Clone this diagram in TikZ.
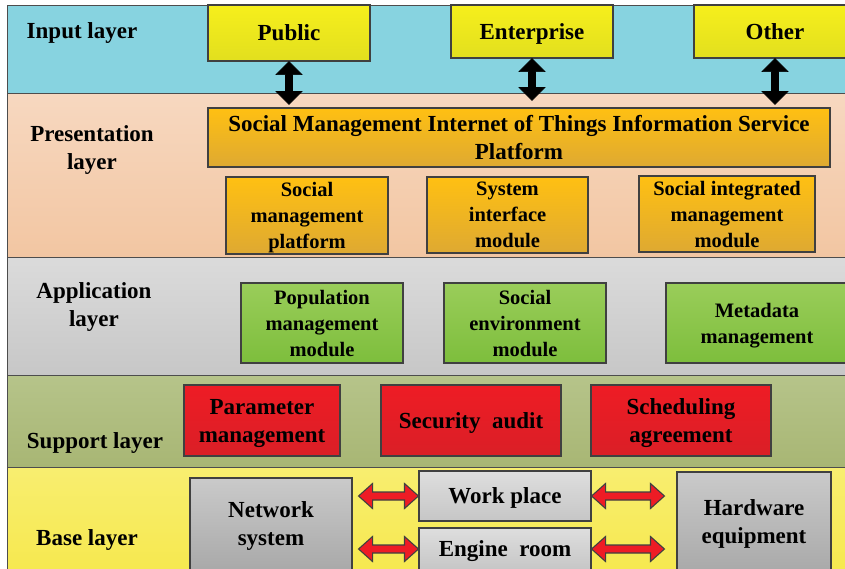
\documentclass[tikz,border=0pt]{standalone}
\usepackage{fontspec}
\setmainfont{Liberation Serif}
\usetikzlibrary{calc}
\definecolor{inband}{HTML}{87D3E0}
\definecolor{prestop}{HTML}{F7D8C0}
\definecolor{presbot}{HTML}{F2C6A2}
\definecolor{apptop}{HTML}{DBDBDB}
\definecolor{appbot}{HTML}{C7C7C7}
\definecolor{suptop}{HTML}{B6C48A}
\definecolor{supbot}{HTML}{A8B674}
\definecolor{basetop}{HTML}{F8EE70}
\definecolor{basebot}{HTML}{F6E84C}
\definecolor{yeltop}{HTML}{F6EF1C}
\definecolor{yelbot}{HTML}{E2DF1E}
\definecolor{ortop}{HTML}{FFC012}
\definecolor{orbot}{HTML}{DEA932}
\definecolor{grtop}{HTML}{9ACD5A}
\definecolor{grbot}{HTML}{7DBE3C}
\definecolor{rdtop}{HTML}{EE1C25}
\definecolor{rdbot}{HTML}{DA1F26}
\definecolor{gytop}{HTML}{CACACA}
\definecolor{gybot}{HTML}{A9A9A9}
\definecolor{lgtop}{HTML}{DEDEDE}
\definecolor{lgbot}{HTML}{C6C6C6}
\definecolor{boxline}{HTML}{404040}
\definecolor{bandline}{HTML}{4D4D4D}
\newcommand{\bigf}{\fontsize{23}{28}\selectfont\bfseries}
\newcommand{\smallf}{\fontsize{20.5}{26}\selectfont\bfseries}
\newcommand{\dArrowV}[3][]{%
  \path[#1] let \p1=(#2), \p2=(#3) in
   (\x1,\y1) -- (\x1+13pt,\y1-13pt) -- (\x1+3.5pt,\y1-13pt) -- (\x1+3.5pt,\y2+13pt)
   -- (\x1+13pt,\y2+13pt) -- (\x1,\y2) -- (\x1-13pt,\y2+13pt) -- (\x1-3.5pt,\y2+13pt)
   -- (\x1-3.5pt,\y1-13pt) -- (\x1-13pt,\y1-13pt) -- cycle;}
\newcommand{\dArrowH}[3][]{%
  \path[#1] let \p1=(#2), \p2=(#3) in
   (\x1,\y1) -- (\x1+14pt,\y1+12.5pt) -- (\x1+14pt,\y1+4pt) -- (\x2-14pt,\y1+4pt)
   -- (\x2-14pt,\y1+12.5pt) -- (\x2,\y1) -- (\x2-14pt,\y1-12.5pt) -- (\x2-14pt,\y1-4pt)
   -- (\x1+14pt,\y1-4pt) -- (\x1+14pt,\y1-12.5pt) -- cycle;}
\begin{document}
\begin{tikzpicture}[x=1pt,y=-1pt,
  band/.style={draw=bandline,line width=1pt},
  bx/.style={draw=boxline,line width=1.1pt,inner sep=0pt,align=center,text depth=0pt},
  yel/.style={bx,top color=yeltop,bottom color=yelbot,font=\bigf},
  ora/.style={bx,top color=ortop,bottom color=orbot,font=\bigf},
  orasm/.style={bx,top color=ortop,bottom color=orbot,font=\smallf},
  grn/.style={bx,top color=grtop,bottom color=grbot,font=\smallf},
  red/.style={bx,top color=rdtop,bottom color=rdbot,font=\bigf},
  gry/.style={bx,top color=gytop,bottom color=gybot,font=\bigf},
  lgry/.style={bx,top color=lgtop,bottom color=lgbot,font=\bigf},
  lbl/.style={align=center,font=\bigf,inner sep=0pt,text depth=0pt},
  blkarrow/.style={fill=black,draw=black,line width=0.6pt},
  redarrow/.style={fill=rdtop,draw=boxline,line width=1.1pt}]
\useasboundingbox (0,0) rectangle (845,568);
\clip (0,0) rectangle (845,568);
% bands
\path[band,fill=inband] (7,5) rectangle (852,93);
\path[band,top color=prestop,bottom color=presbot] (7,93) rectangle (852,257);
\path[band,top color=apptop,bottom color=appbot] (7,257) rectangle (852,375);
\path[band,top color=suptop,bottom color=supbot] (7,375) rectangle (852,467);
\path[band,top color=basetop,bottom color=basebot] (7,467) rectangle (852,580);
% layer labels
\node[lbl] (linput) at (82,31) {Input layer};
\node[lbl] (lpres) at (92,147.5) {Presentation\\layer};
\node[lbl] (lapp) at (94,305) {Application\\layer};
\node[lbl] (lsup) at (95,441) {Support layer};
\node[lbl] (lbase) at (87,538) {Base layer};
% input
\node[yel,minimum width=162,minimum height=56] (pub) at (289,33) {Public};
\node[yel,minimum width=162,minimum height=53] (ent) at (532,31.5) {Enterprise};
\node[yel,minimum width=162,minimum height=53] (oth) at (775,31.5) {Other};
% presentation
\node[ora,minimum width=622,minimum height=59] (plat) at (519,137.5)
  {Social Management Internet of Things Information Service\\Platform};
\node[orasm,minimum width=162,minimum height=77] (smp) at (307,215.5)
  {Social\\management\\platform};
\node[orasm,minimum width=161,minimum height=76] (sim) at (507.5,215)
  {System\\interface\\module};
\node[orasm,minimum width=176,minimum height=76] (sig) at (727,214)
  {Social integrated\\management\\module};
% application
\node[grn,minimum width=162,minimum height=80] (pop) at (322,323)
  {Population\\management\\module};
\node[grn,minimum width=162,minimum height=80] (sen) at (525,323)
  {Social\\environment\\module};
\node[grn,minimum width=182,minimum height=80] (meta) at (757,323)
  {Metadata\\management};
% support
\node[red,minimum width=156,minimum height=71] (par) at (262,420.5)
  {Parameter\\management};
\node[red,minimum width=180,minimum height=71] (sec) at (471,420.5)
  {Security\ \ audit};
\node[red,minimum width=180,minimum height=71] (sch) at (681,420.5)
  {Scheduling\\agreement};
% base
\node[gry,minimum width=162,minimum height=92] (net) at (271,524)
  {Network\\system};
\node[lgry,minimum width=172,minimum height=50] (wp) at (505,496) {Work place};
\node[lgry,minimum width=172,minimum height=42] (eng) at (505,549) {Engine\ \ room};
\node[gry,minimum width=154,minimum height=100] (hw) at (754,522)
  {Hardware\\equipment};
% black arrows
\dArrowV[blkarrow]{pub.south}{$(pub.south |- plat.north)+(0,-3)$}
\dArrowV[blkarrow]{ent.south}{$(ent.south |- plat.north)+(0,-7)$}
\dArrowV[blkarrow]{oth.south}{$(oth.south |- plat.north)+(0,-3)$}
% red arrows
\dArrowH[redarrow]{$(net.east |- wp.west)+(6,0)$}{wp.west}
\dArrowH[redarrow]{wp.east}{$(hw.west |- wp.east)+(-12,0)$}
\dArrowH[redarrow]{$(net.east |- eng.west)+(6,0)$}{eng.west}
\dArrowH[redarrow]{eng.east}{$(hw.west |- eng.east)+(-12,0)$}
\end{tikzpicture}
\end{document}
